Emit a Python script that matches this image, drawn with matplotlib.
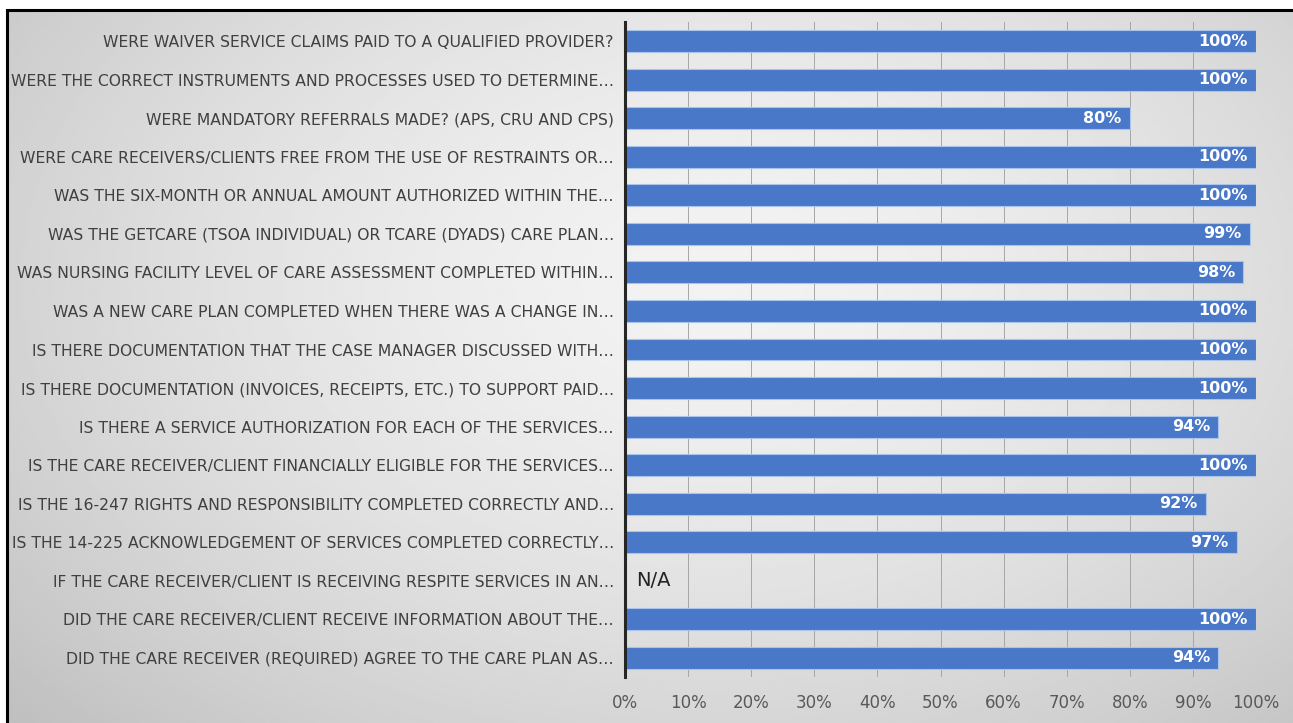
import numpy as np
import matplotlib.pyplot as plt
from matplotlib.patches import Rectangle
from matplotlib import font_manager

fams = [f.name for f in font_manager.fontManager.ttflist]
main_font = 'Liberation Sans Narrow' if 'Liberation Sans Narrow' in fams else 'DejaVu Sans'
plt.rcParams['font.family'] = [main_font, 'DejaVu Sans']

# questions from top to bottom
questions = [
    "WERE WAIVER SERVICE CLAIMS PAID TO A QUALIFIED PROVIDER?",
    "WERE THE CORRECT INSTRUMENTS AND PROCESSES USED TO DETERMINE…",
    "WERE MANDATORY REFERRALS MADE? (APS, CRU AND CPS)",
    "WERE CARE RECEIVERS/CLIENTS FREE FROM THE USE OF RESTRAINTS OR…",
    "WAS THE SIX-MONTH OR ANNUAL AMOUNT AUTHORIZED WITHIN THE…",
    "WAS THE GETCARE (TSOA INDIVIDUAL) OR TCARE (DYADS) CARE PLAN…",
    "WAS NURSING FACILITY LEVEL OF CARE ASSESSMENT COMPLETED WITHIN…",
    "WAS A NEW CARE PLAN COMPLETED WHEN THERE WAS A CHANGE IN…",
    "IS THERE DOCUMENTATION THAT THE CASE MANAGER DISCUSSED WITH…",
    "IS THERE DOCUMENTATION (INVOICES, RECEIPTS, ETC.) TO SUPPORT PAID…",
    "IS THERE A SERVICE AUTHORIZATION FOR EACH OF THE SERVICES…",
    "IS THE CARE RECEIVER/CLIENT FINANCIALLY ELIGIBLE FOR THE SERVICES…",
    "IS THE 16-247 RIGHTS AND RESPONSIBILITY COMPLETED CORRECTLY AND…",
    "IS THE 14-225 ACKNOWLEDGEMENT OF SERVICES COMPLETED CORRECTLY…",
    "IF THE CARE RECEIVER/CLIENT IS RECEIVING RESPITE SERVICES IN AN…",
    "DID THE CARE RECEIVER/CLIENT RECEIVE INFORMATION ABOUT THE…",
    "DID THE CARE RECEIVER (REQUIRED) AGREE TO THE CARE PLAN AS…",
]
# percent compliant, None = not applicable
scores = [100, 100, 80, 100, 100, 99, 98, 100, 100, 100, 94, 100, 92, 97, None, 100, 94]
xticks_pct = [0, 10, 20, 30, 40, 50, 60, 70, 80, 90, 100]

W, H = 1293, 723
fig = plt.figure(figsize=(W / 100, H / 100), dpi=100)
fig.patch.set_facecolor('white')

# soft radial grey backdrop inside the frame
bg = fig.add_axes([7 / W, 0, 1 - 7 / W, 1 - 10 / H])
bg.set_axis_off()
gx, gy = np.meshgrid(np.linspace(0, 1, 400), np.linspace(0, 1, 250))
r = np.sqrt(((gx - 0.55) / 0.75) ** 2 + ((gy - 0.38) / 0.9) ** 2)
shade = 0.95 - 0.20 * np.clip(r, 0, 1) ** 1.6
bg.imshow(shade, cmap='gray', vmin=0, vmax=1, aspect='auto', extent=[0, 1, 0, 1])
bg.set_xlim(0, 1)
bg.set_ylim(0, 1)
fig.patches.append(Rectangle((7 / W, -0.05), 1.1, 1 - 10 / H + 0.05, transform=fig.transFigure,
                             fill=False, edgecolor='black', linewidth=2.2, zorder=10))

ax = fig.add_axes([625 / W, 1 - 677 / H, (1256 - 625) / W, (677 - 22) / H])
ax.set_facecolor('none')

y = np.arange(len(questions))
vals = np.array([np.nan if s is None else s / 100 for s in scores])
ax.barh(y, np.nan_to_num(vals), height=0.57, color='#4A78C8',
        edgecolor='#A9C4EC', linewidth=0.8, zorder=3)

for yi, s in zip(y, scores):
    if s is None:
        ax.text(0.018, yi, 'N/A', ha='left', va='center', fontsize=14, color='#222222', zorder=4)
    else:
        ax.text(s / 100 - 0.013, yi, f'{s}%', ha='right', va='center', fontsize=11.5,
                fontweight='bold', color='white', zorder=4)

ax.set_ylim(len(questions) - 0.5, -0.5)
ax.set_xlim(0, 1)
ax.set_xticks([t / 100 for t in xticks_pct])
ax.set_xticklabels([f'{t}%' for t in xticks_pct], fontsize=12, color='#595959')
ax.set_yticks(y)
ax.set_yticklabels(questions, fontsize=12.5, color='#404040')
ax.tick_params(axis='y', length=0, pad=8)
ax.tick_params(axis='x', length=0, pad=12)
ax.grid(axis='x', color='#A6A6A6', linewidth=0.7, zorder=0)
for side in ['top', 'right', 'bottom']:
    ax.spines[side].set_visible(False)
ax.spines['left'].set_color('#262626')
ax.spines['left'].set_linewidth(2.2)
ax.spines['left'].set_zorder(5)

# shrink category labels so the longest one fits the left margin
fig.canvas.draw()
rend = fig.canvas.get_renderer()
widest = max(t.get_window_extent(rend).width for t in ax.get_yticklabels())
fs = 12.5 * min(1.0, 606 / widest)
for t in ax.get_yticklabels():
    t.set_fontsize(fs)

fig.savefig('out.png', dpi=100, facecolor='white')
